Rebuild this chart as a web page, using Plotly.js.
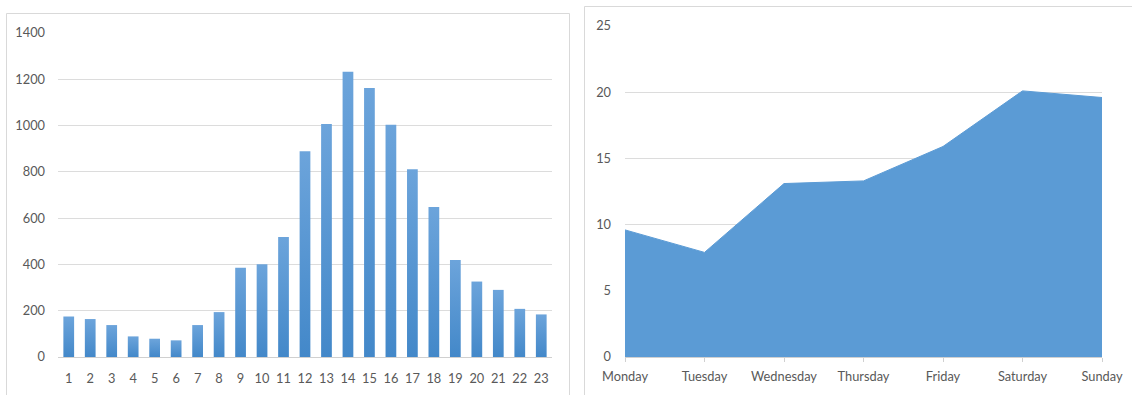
<!DOCTYPE html>
<html>
<head>
<meta charset="utf-8">
<script src="https://cdn.plot.ly/plotly-3.0.1.min.js"></script>
<style>
  html, body { margin: 0; padding: 0; background: #ffffff; }
  #chart { width: 1132px; height: 395px; }
</style>
</head>
<body>
<div id="chart"></div>
<script>
// Hourly counts (hours 1..23)
const hours = ["1","2","3","4","5","6","7","8","9","10","11","12","13","14","15","16","17","18","19","20","21","22","23"];
const hourCounts = [175, 164, 138, 89, 79, 72, 138, 194, 386, 401, 518, 889, 1007, 1233, 1162, 1004, 811, 648, 419, 326, 290, 208, 184];

// Daily values across the week
const days = ["Monday", "Tuesday", "Wednesday", "Thursday", "Friday", "Saturday", "Sunday"];
const dayValues = [9.6, 7.9, 13.1, 13.3, 15.9, 20.1, 19.6];

const W = 1132, H = 395;
const px = v => v / W;
const py = v => (H - v) / H;

const tickFont = { family: "Lato, 'Open Sans', sans-serif", size: 12.8, color: "#595959" };
const gridColor = "#dcdcdc";

const traces = [
  {
    type: "bar",
    x: hours,
    y: hourCounts,
    xaxis: "x",
    yaxis: "y",
    marker: { color: "#5595d2", line: { width: 0 } },
    hoverinfo: "x+y"
  },
  {
    type: "scatter",
    mode: "lines",
    x: days,
    y: dayValues,
    xaxis: "x2",
    yaxis: "y2",
    fill: "tozeroy",
    fillcolor: "#5b9bd5",
    line: { color: "#5b9bd5", width: 1 },
    hoverinfo: "x+y"
  }
];

const layout = {
  width: W,
  height: H,
  margin: { l: 0, r: 0, t: 0, b: 0 },
  paper_bgcolor: "#ffffff",
  plot_bgcolor: "rgba(0,0,0,0)",
  showlegend: false,
  bargap: 0.5,
  xaxis: {
    domain: [px(58), px(552)],
    anchor: "y",
    type: "category",
    showgrid: false,
    showline: true,
    linecolor: "#d0d0d0",
    linewidth: 1,
    ticks: "",
    ticklabelstandoff: 10,
    tickfont: tickFont,
    zeroline: false,
    fixedrange: true
  },
  yaxis: {
    domain: [py(357), py(33)],
    anchor: "x",
    range: [0, 1400],
    tickvals: [0, 200, 400, 600, 800, 1000, 1200, 1400],
    showgrid: true,
    gridcolor: gridColor,
    gridwidth: 1,
    zeroline: false,
    showline: false,
    ticks: "",
    ticklabelstandoff: 12,
    tickfont: tickFont,
    fixedrange: true
  },
  xaxis2: {
    domain: [px(625), px(1102)],
    anchor: "y2",
    type: "category",
    range: [0, 6],
    showgrid: false,
    showline: true,
    linecolor: "#d0d0d0",
    linewidth: 1,
    ticks: "outside",
    ticklen: 4,
    tickcolor: "#d0d0d0",
    ticklabelstandoff: 4,
    tickfont: tickFont,
    zeroline: false,
    fixedrange: true
  },
  yaxis2: {
    domain: [py(357), py(26)],
    anchor: "x2",
    range: [0, 25],
    tickvals: [0, 5, 10, 15, 20, 25],
    showgrid: true,
    gridcolor: gridColor,
    gridwidth: 1,
    zeroline: false,
    showline: false,
    ticks: "",
    ticklabelstandoff: 13,
    tickfont: tickFont,
    fixedrange: true
  },
  shapes: [
    // chart frames
    { type: "rect", xref: "paper", yref: "paper", x0: px(6.5), x1: px(569.5), y0: py(400), y1: py(13.5),
      line: { color: "#d9d9d9", width: 1 }, fillcolor: "rgba(0,0,0,0)", layer: "below" },
    { type: "rect", xref: "paper", yref: "paper", x0: px(584.5), x1: px(1140), y0: py(400), y1: py(6.5),
      line: { color: "#d9d9d9", width: 1 }, fillcolor: "rgba(0,0,0,0)", layer: "below" }
  ]
};

Plotly.newPlot("chart", traces, layout, { staticPlot: true, displayModeBar: false }).then(gd => {
  // Vertical shading on the bars: lighter at the top, deeper blue at the base
  const svg = gd.querySelector("svg.main-svg");
  const ns = "http://www.w3.org/2000/svg";
  let defs = svg.querySelector("defs");
  if (!defs) { defs = document.createElementNS(ns, "defs"); svg.insertBefore(defs, svg.firstChild); }
  const grad = document.createElementNS(ns, "linearGradient");
  grad.setAttribute("id", "barShade");
  grad.setAttribute("x1", "0"); grad.setAttribute("y1", "0");
  grad.setAttribute("x2", "0"); grad.setAttribute("y2", "1");
  [["0%", "#6ca4db"], ["100%", "#4388c9"]].forEach(([off, col]) => {
    const s = document.createElementNS(ns, "stop");
    s.setAttribute("offset", off);
    s.setAttribute("stop-color", col);
    grad.appendChild(s);
  });
  defs.appendChild(grad);
  gd.querySelectorAll(".barlayer .point path").forEach(p => { p.style.fill = "url(#barShade)"; });
});
</script>
</body>
</html>
